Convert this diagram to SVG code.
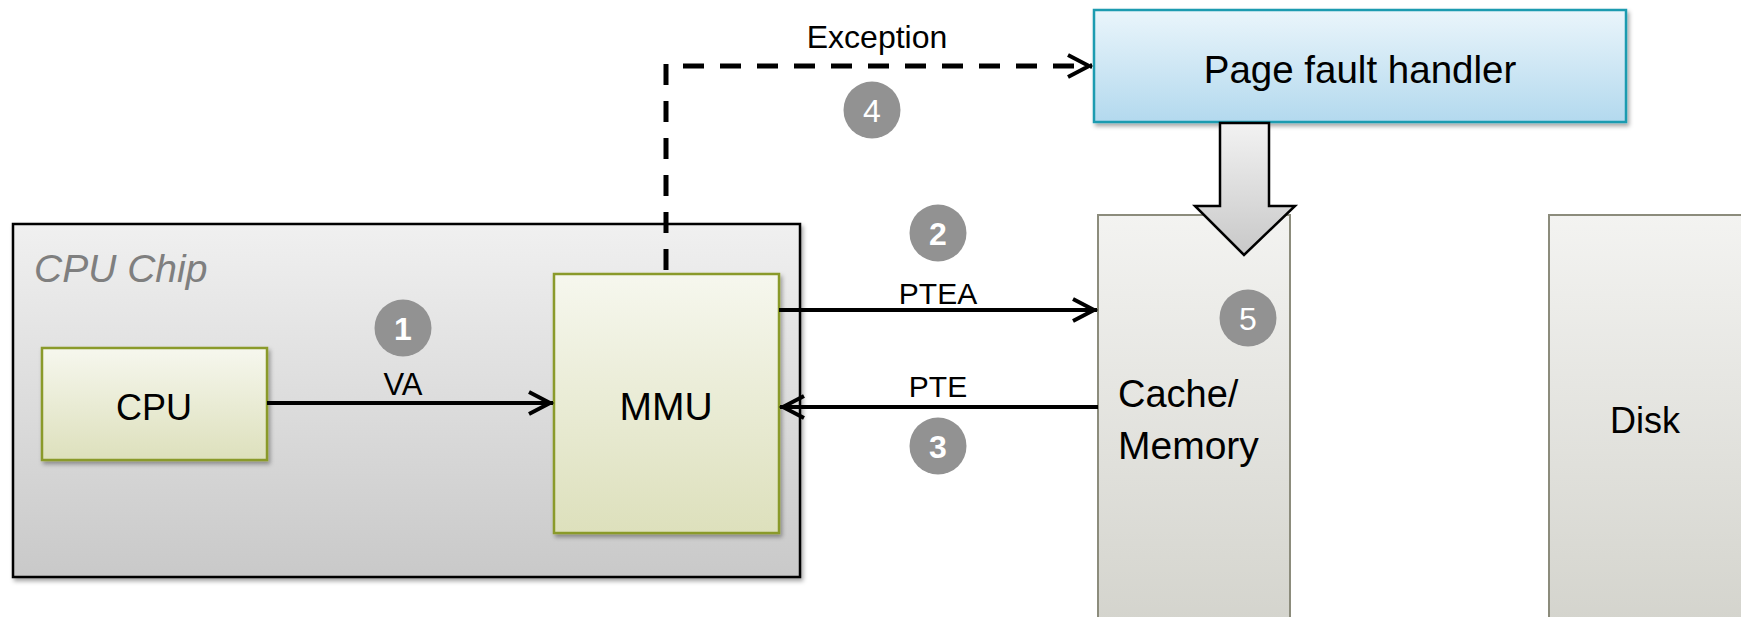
<svg xmlns="http://www.w3.org/2000/svg" width="1741" height="617" viewBox="0 0 1741 617">
<defs>
<linearGradient id="gChip" x1="0" y1="0" x2="0" y2="1"><stop offset="0" stop-color="#f0f0f0"/><stop offset="1" stop-color="#c9c9c9"/></linearGradient>
<linearGradient id="gOlive" x1="0" y1="0" x2="0" y2="1"><stop offset="0" stop-color="#f6f7ee"/><stop offset="1" stop-color="#dde0bc"/></linearGradient>
<linearGradient id="gBlue" x1="0" y1="0" x2="0" y2="1"><stop offset="0" stop-color="#eaf5fb"/><stop offset="1" stop-color="#b3d9ee"/></linearGradient>
<linearGradient id="gMem" x1="0" y1="0" x2="0" y2="1"><stop offset="0" stop-color="#f3f3f1"/><stop offset="1" stop-color="#d3d3cc"/></linearGradient>
<linearGradient id="gBlock" x1="0" y1="0" x2="0" y2="1"><stop offset="0" stop-color="#f2f2f2"/><stop offset="1" stop-color="#c8c8c8"/></linearGradient>
<filter id="sh" x="-5%" y="-5%" width="110%" height="115%"><feDropShadow dx="2" dy="3" stdDeviation="2" flood-color="#000" flood-opacity="0.35"/></filter>
<marker id="arr" markerUnits="userSpaceOnUse" markerWidth="34" markerHeight="34" viewBox="-28 -16 34 32" refX="0" refY="0" orient="auto">
<path d="M-24,-11 L-3,0 L-24,11" fill="none" stroke="#000" stroke-width="4"/>
</marker>
<style>
.lbl{font-family:"Liberation Sans",Arial,sans-serif;fill:#000;text-anchor:middle}
.num{font-family:"Liberation Sans",Arial,sans-serif;fill:#fff;text-anchor:middle;font-size:32px}
.badge{fill:#929292}
.conn{fill:none;stroke:#000;stroke-width:4}
.dash{fill:none;stroke:#000;stroke-width:5;stroke-dasharray:21 16}
</style>
</defs>
<rect width="1741" height="617" fill="#fff"/>

<g id="cpu-chip">
<rect x="13" y="224" width="787" height="353" fill="url(#gChip)" stroke="#000" stroke-width="2.5" filter="url(#sh)"/>
<text x="34" y="282" font-family="Liberation Sans, Arial, sans-serif" font-style="italic" font-size="39" fill="#7f7f7f">CPU Chip</text>
</g>

<g id="cpu">
<rect x="42" y="348" width="225" height="112" fill="url(#gOlive)" stroke="#8a9a2a" stroke-width="2.5" filter="url(#sh)"/>
<text class="lbl" x="154" y="420" font-size="36">CPU</text>
</g>

<g id="mmu">
<rect x="554" y="274" width="225" height="259" fill="url(#gOlive)" stroke="#8a9a2a" stroke-width="2.5" filter="url(#sh)"/>
<text class="lbl" x="666" y="420" font-size="39">MMU</text>
</g>

<g id="page-fault-handler">
<rect x="1094" y="10" width="532" height="112" fill="url(#gBlue)" stroke="#1a9bb0" stroke-width="2.5" filter="url(#sh)"/>
<text class="lbl" x="1360" y="83" font-size="38.5">Page fault handler</text>
</g>

<g id="cache-memory">
<rect x="1098" y="215" width="192" height="420" fill="url(#gMem)" stroke="#8c8c7c" stroke-width="2"/>
<text x="1118" y="407" font-family="Liberation Sans, Arial, sans-serif" font-size="38" fill="#000">Cache/</text>
<text x="1118" y="459" font-family="Liberation Sans, Arial, sans-serif" font-size="39" fill="#000">Memory</text>
</g>

<g id="disk">
<rect x="1549" y="215" width="200" height="420" fill="url(#gMem)" stroke="#8c8c7c" stroke-width="2"/>
<text class="lbl" x="1645" y="433" font-size="36">Disk</text>
</g>

<g id="connectors">
<path class="conn" d="M267,403 L553,403" marker-end="url(#arr)"/>
<path class="conn" d="M779,310 L1097,310" marker-end="url(#arr)"/>
<path class="conn" d="M1098,407 L780,407" marker-end="url(#arr)"/>
<path class="dash" d="M666,64 L666,274"/>
<path class="dash" d="M683,66 L1092,66" marker-end="url(#arr)"/>
<path d="M1220,123 L1269,123 L1269,206 L1295,206 L1244,255 L1195,206 L1220,206 Z" fill="url(#gBlock)" stroke="#000" stroke-width="2.5" stroke-linejoin="miter"/>
<text class="lbl" x="403" y="395" font-size="31">VA</text>
<text class="lbl" x="938" y="304" font-size="30">PTEA</text>
<text class="lbl" x="938" y="397" font-size="30">PTE</text>
<text class="lbl" x="877" y="48" font-size="32">Exception</text>
</g>

<g id="step-1"><circle class="badge" cx="403" cy="328" r="28.5"/><text class="num" x="403" y="339.5" font-weight="bold">1</text></g>
<g id="step-2"><circle class="badge" cx="938" cy="233" r="28.5"/><text class="num" x="938" y="244.5" font-weight="bold">2</text></g>
<g id="step-3"><circle class="badge" cx="938" cy="446" r="28.5"/><text class="num" x="938" y="457.5" font-weight="bold">3</text></g>
<g id="step-4"><circle class="badge" cx="872" cy="110" r="28.5"/><text class="num" x="872" y="121.5">4</text></g>
<g id="step-5"><circle class="badge" cx="1248" cy="318" r="28.5"/><text class="num" x="1248" y="329.5">5</text></g>
</svg>
